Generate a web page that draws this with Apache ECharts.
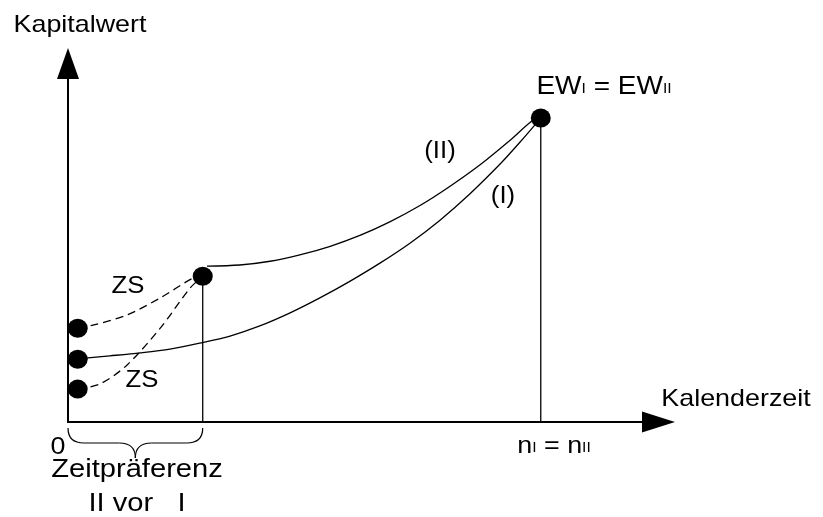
<!DOCTYPE html>
<html><head><meta charset="utf-8">
<script src="https://cdn.jsdelivr.net/npm/echarts@6/dist/echarts.min.js"></script>
<style>html,body{margin:0;padding:0;background:#fff}#c{width:823px;height:517px}</style>
</head><body><div id="c"></div>
<script>
// axis ranges (conceptual units)
const xMax = 97.3, yMax = 95.9;
// curve (I): Kapitalwert of project I over Kalenderzeit
const curveI = [[1.6,16.9],[6.9,17.7],[11.9,18.5],[16.8,19.5],[21.7,21.1],[26.7,23.0],[31.6,25.7],[36.6,29.2],[41.5,33.2],[46.5,37.7],[51.4,42.5],[56.4,47.9],[61.3,54.0],[66.2,61.0],[71.2,69.0],[74.5,74.9],[77.9,81.3]];
// curve (II)
const curveII = [[22.9,41.7],[28.3,42.0],[33.3,43.0],[38.2,44.7],[43.2,47.0],[48.1,49.9],[53.1,53.6],[58.0,57.9],[62.9,63.0],[67.9,68.8],[72.8,75.3],[76.6,80.7],[77.9,81.3]];
// dashed ZS curves
const zsUpper = [[1.6,25.1],[4.1,25.9],[9.7,28.6],[15.2,33.2],[20.6,38.5],[22.2,39.0]];
const zsLower = [[1.6,8.8],[5.3,10.2],[9.7,15.2],[15.2,25.1],[20.1,35.8],[22.2,39.0]];
// marked points
const dots = [[1.6,25.1],[1.6,16.8],[1.6,8.8],[22.2,39.0],[77.9,81.3]];
// vertical drop lines (x, top)
const dropLines = [[22.2,39.0],[77.9,81.3]];
// brace span on x axis
const braceSpan = [0, 22.2];
// texts
const txtY = 'Kapitalwert', txtX = 'Kalenderzeit', txtZero = '0';
const txtEW = 'EW{s|I} = EW{s|II}', txtN = 'n{s|I} = n{s|II}';
const txtII = '(II)', txtI = '(I)', txtZS = 'ZS';
const txtPref1 = 'Zeitpräferenz', txtPref2 = 'II vor   I';

const FONT = '"Liberation Sans", Arial, sans-serif';
const SX = 1.12;
const chart = echarts.init(document.getElementById('c'), null, {renderer:'canvas'});

const axisCommon = {
  type:'value', min:0,
  axisLine:{show:true, lineStyle:{color:'#000', width:2}, symbol:['none','triangle']},
  axisTick:{show:false}, axisLabel:{show:false}, splitLine:{show:false}
};
const lineSeries = (data, dashed) => ({
  type:'line', data, smooth:0.3, showSymbol:false, silent:true,
  lineStyle:{color:'#000', width:1.3, type: dashed ? [8,5] : 'solid'}, z:2
});
const series = [
  lineSeries(curveI,false), lineSeries(curveII,false),
  lineSeries(zsUpper,true), lineSeries(zsLower,true)
];
dropLines.forEach(d => series.push({type:'line', data:[[d[0],0],[d[0],d[1]]], showSymbol:false, silent:true, lineStyle:{color:'#000', width:1.3}, z:2}));
series.push({type:'scatter', data:dots, symbol:'circle', symbolSize:[20,19], itemStyle:{color:'#000', opacity:1}, z:5, silent:true});

chart.setOption({
  animation:false,
  backgroundColor:'#fff',
  grid:{left:68, top:63.5, right:164.5, bottom:95},
  xAxis:Object.assign({}, axisCommon, {max:xMax, axisLine:Object.assign({}, axisCommon.axisLine, {symbolSize:[21,33]})}),
  yAxis:Object.assign({}, axisCommon, {max:yMax, axisLine:Object.assign({}, axisCommon.axisLine, {symbolSize:[22,31]})}),
  series
});

function txt(text, x, y, size){
  return {
    type:'text', x, y, scaleX:SX, z:10, silent:true,
    style:{text, x:0, y:0, fill:'#000', font: size+'px '+FONT, fontSize:size, fontFamily:FONT,
      align:'center', verticalAlign:'middle', textAlign:'center', textVerticalAlign:'middle',
      rich:{s:{fontSize:14, fontFamily:FONT, fill:'#000', verticalAlign:'bottom', padding:[0,0,3,0]}}}
  };
}
const p0 = chart.convertToPixel({gridIndex:0}, [braceSpan[0], 0]);
const p1 = chart.convertToPixel({gridIndex:0}, [braceSpan[1], 0]);
const bx0 = p0[0], bx1 = p1[0], by = p0[1];
const bm = (bx0+bx1)/2, bTop = by+6, bMid = by+21, bTip = by+36;
const bStyle = {stroke:'#000', fill:null, lineWidth:1.2};
const braceParts = [
  {type:'bezierCurve', shape:{x1:bx0, y1:bTop, cpx1:bx0, cpy1:bMid, x2:bx0+16, y2:bMid}},
  {type:'line', shape:{x1:bx0+16, y1:bMid, x2:bm-16, y2:bMid}},
  {type:'bezierCurve', shape:{x1:bm-16, y1:bMid, cpx1:bm, cpy1:bMid, x2:bm, y2:bTip}},
  {type:'bezierCurve', shape:{x1:bm, y1:bTip, cpx1:bm, cpy1:bMid, x2:bm+16, y2:bMid}},
  {type:'line', shape:{x1:bm+16, y1:bMid, x2:bx1-16, y2:bMid}},
  {type:'bezierCurve', shape:{x1:bx1-16, y1:bMid, cpx1:bx1, cpy1:bMid, x2:bx1, y2:bTop}}
].map(p => Object.assign(p, {style:bStyle, silent:true, z:10}));

chart.setOption({graphic:[
  txt(txtY, 80, 25, 24),
  txt(txtX, 736, 399, 24),
  txt(txtEW, 604, 87, 25),
  txt(txtN, 554, 446, 24),
  txt(txtII, 440, 152, 23),
  txt(txtI, 503, 197, 23),
  txt(txtZS, 128, 287, 23),
  txt(txtZS, 142, 381, 23),
  txt(txtZero, 58, 447, 24),
  txt(txtPref1, 137, 470, 26),
  txt(txtPref2, 137, 504, 26)
].concat(braceParts)});
</script></body></html>
